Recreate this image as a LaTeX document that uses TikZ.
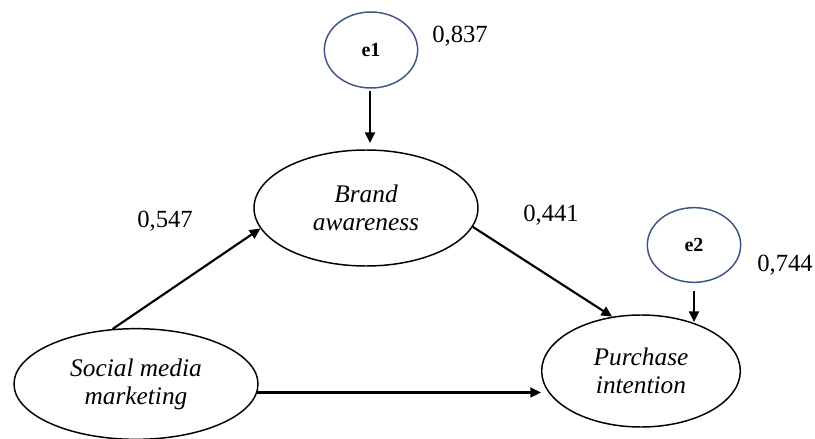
\documentclass[tikz,border=0pt]{standalone}
\usepackage{fontspec}
\setmainfont{Liberation Serif}
\usetikzlibrary{shapes.geometric,arrows.meta}
\definecolor{errblue}{RGB}{60,85,130}
\tikzset{
  latent/.style={draw=black,line width=1.1pt,ellipse,inner sep=0pt,align=center,
    font=\fontsize{19}{21}\selectfont\itshape},
  errnode/.style={draw=errblue,line width=1.1pt,ellipse,inner sep=0pt,
    font=\fontsize{15}{17}\selectfont\bfseries},
  coef/.style={font=\fontsize{18.5}{20}\selectfont},
  arr/.style={line width=1.6pt,-{Triangle[length=8pt,width=7.5pt]}}
}
\begin{document}
\begin{tikzpicture}[x=0.75pt,y=-0.75pt]
\useasboundingbox (0,0) rectangle (815,439);
% error terms
\node[errnode,minimum width=70pt,minimum height=57pt] (e1) at (371,50) {e1};
\node[errnode,minimum width=70pt,minimum height=56pt] (e2) at (694,245) {e2};
% latent variables
\node[latent,minimum width=168pt,minimum height=87pt] (ba) at (366,208) {Brand\\awareness};
\node[latent,minimum width=183pt,minimum height=83pt] (smm) at (136,384) {Social media\\marketing};
\node[latent,minimum width=149pt,minimum height=84pt] (pi) at (641,371) {Purchase\\intention};
% coefficients
\node[coef] (c1) at (460,36) {0,837};
\node[coef] (c2) at (165,221) {0,547};
\node[coef] (c3) at (551,215) {0,441};
\node[coef] (c4) at (785,265) {0,744};
% connectors
\coordinate (e1t) at (370,143);
\coordinate (e2t) at (694,322);
\draw[arr,shorten <=1.5pt] (e1.south -| e1t) -- (e1t);
\draw[arr,shorten <=6pt] (e2.south -| e2t) -- (e2t);
\draw[arr] (smm.113) -- (ba.191);
\draw[arr] (ba.350) -- (pi.118);
\draw[arr] (smm.-4) -- (smm.-4 -| pi.west);
\end{tikzpicture}
\end{document}
